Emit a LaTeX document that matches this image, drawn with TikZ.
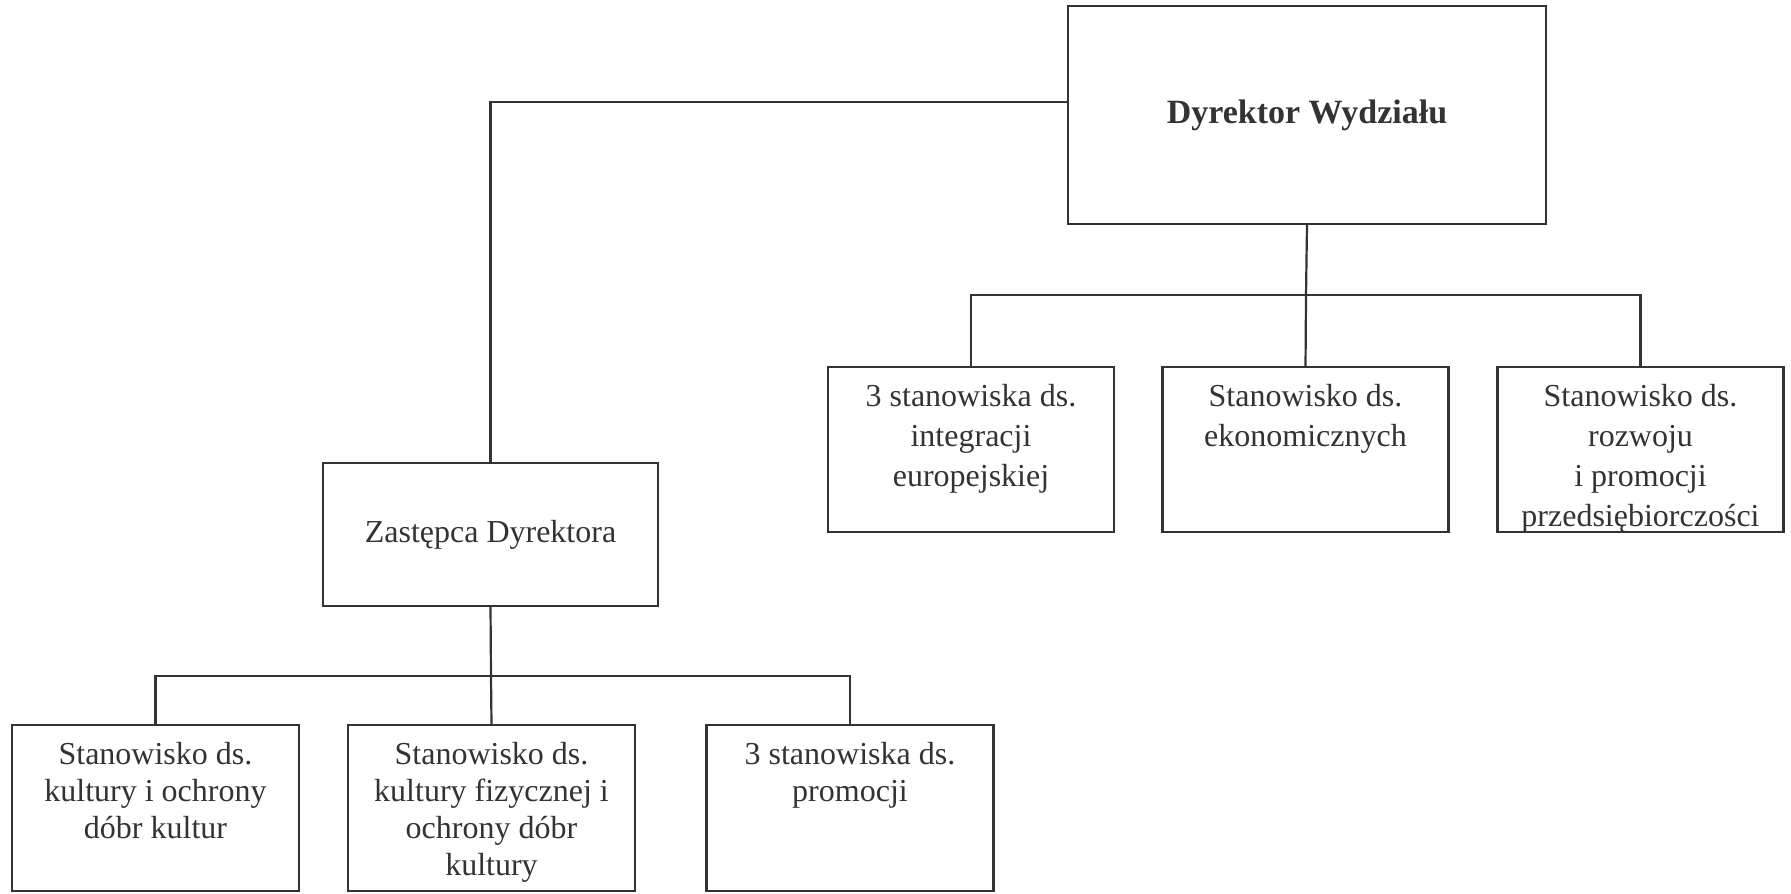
\documentclass[tikz,border=0pt]{standalone}
\usepackage{fontspec}
\setmainfont{Liberation Serif}
\usetikzlibrary{positioning}
\definecolor{Ink}{HTML}{333333}
\tikzset{
    unit/.style={rectangle, draw=Ink, line width=1.1pt, inner sep=0pt, outer sep=0pt, text=Ink, align=center},
    link/.style={draw=Ink, line width=1.1pt},
}
% box text set from the top: width, height, line skip, text
\newcommand{\toptext}[4]{\parbox[c][#2][t]{#1}{\centering\fontsize{16}{#3}\selectfont\rule{0pt}{19.5pt}#4}}

\begin{document}
\begin{tikzpicture}[x=0.5pt, y=-0.5pt]
    \useasboundingbox[fill=white] (0,0) rectangle (1791,893);

    % Dyrektor
    \node[unit, minimum width=239pt, minimum height=109pt, font=\fontsize{17}{20}\selectfont\bfseries] (dyr) at (1307,115) {Dyrektor Wydziału};

    % Zastepca
    \node[unit, minimum width=167.5pt, minimum height=71.5pt, font=\fontsize{16}{19}\selectfont] (zast) at (490.5,534.5) {Zastępca Dyrektora};

    % stanowiska pod dyrektorem
    \node[unit] (integ) at (971,449.5) {\toptext{143pt}{82.5pt}{20pt}{3 stanowiska ds.\\ integracji\\ europejskiej}};
    \node[unit] (ekon) at (1305.5,449.5) {\toptext{143pt}{82.5pt}{20pt}{Stanowisko ds.\\ ekonomicznych}};
    \node[unit] (rozw) at (1640.5,449.5) {\toptext{143pt}{82.5pt}{20pt}{Stanowisko ds.\\ rozwoju\\ i promocji\\ przedsiębiorczości}};

    % stanowiska pod zastepca
    \node[unit] (kult) at (155.5,808) {\toptext{143.5pt}{83pt}{18.5pt}{Stanowisko ds.\\ kultury i ochrony\\ dóbr kultur}};
    \node[unit] (fiz) at (491.5,808) {\toptext{143.5pt}{83pt}{18.5pt}{Stanowisko ds.\\ kultury fizycznej i\\ ochrony dóbr\\ kultury}};
    \node[unit] (promo) at (850,808) {\toptext{143.5pt}{83pt}{18.5pt}{3 stanowiska ds.\\ promocji}};

    % polaczenia
    \coordinate (jr) at (1306,295);
    \coordinate (jl) at (491,676);
    \draw[link] ([yshift=6.5pt]dyr.west) -| (zast.north);
    \draw[link] (dyr.south) -- (jr);
    \draw[link] (integ.north) |- (jr) -| (rozw.north);
    \draw[link] (jr) -- (ekon.north);
    \draw[link] (zast.south) -- (jl);
    \draw[link] (kult.north) |- (jl) -| (promo.north);
    \draw[link] (jl) -- (fiz.north);
\end{tikzpicture}
\end{document}
